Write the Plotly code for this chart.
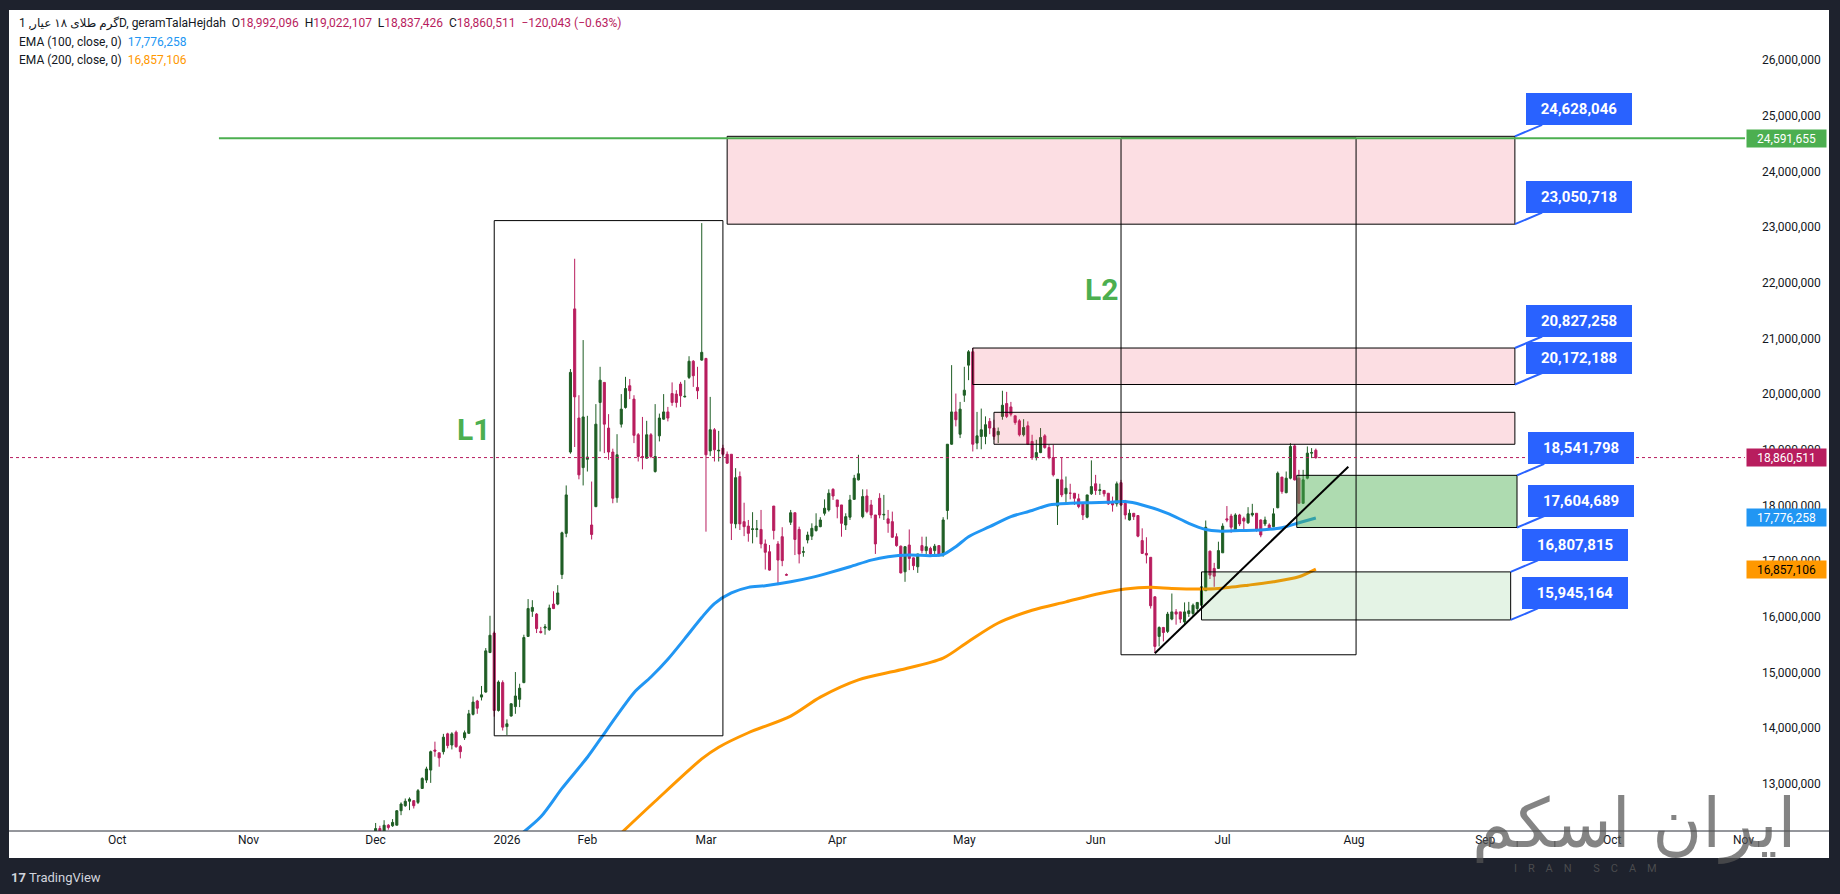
import plotly.graph_objects as go
import pandas as pd

M = 1_000_000

# ---------------- data ----------------
# daily bars (the feed has no bars for 8-19 Jan 2026)
bar_dates = list(pd.date_range("2025-12-01", "2026-01-07")) + list(pd.date_range("2026-01-20", "2026-07-23"))

# OHLC in millions
opens = [
    12.05, 12.20, 12.14, 12.26, 12.25, 12.26, 12.52, 12.61, 12.69, 12.70,
    12.67, 12.92, 13.07, 13.25, 13.61, 13.56, 13.58, 13.90, 13.70, 13.93,
    13.67, 13.83, 13.91, 14.25, 14.49, 14.56, 14.65, 15.36, 15.71, 14.32,
    14.82, 14.03, 14.22, 14.39, 14.52, 14.82, 15.65, 16.10, 16.05, 15.74,
    15.80, 15.77, 16.23, 16.23, 16.76, 17.50, 18.96, 21.53, 19.57, 18.68,
    18.83, 17.65, 17.98, 19.85, 20.21, 19.39, 18.96, 18.14, 19.46, 19.76,
    20.15, 19.91, 19.27, 18.88, 18.85, 19.27, 18.61, 19.25, 19.55, 19.68,
    20.01, 20.00, 20.18, 19.95, 20.30, 20.59, 20.12, 20.61, 20.64, 18.98,
    19.36, 18.98, 19.03, 18.92, 18.92, 17.67, 18.52, 17.71, 17.63, 17.57,
    17.57, 17.57, 17.31, 17.17, 17.99, 17.31, 17.44, 16.76, 17.70, 17.87,
    17.57, 17.16, 17.38, 17.45, 17.55, 17.62, 17.86, 17.92, 18.29, 18.10,
    18.01, 17.65, 17.79, 18.11, 18.46, 17.80, 18.17, 18.01, 17.83, 18.13,
    17.83, 17.76, 17.71, 17.44, 17.27, 16.81, 17.29, 17.06, 16.90, 17.28,
    17.19, 17.23, 17.19, 17.28, 17.11, 17.91, 19.10, 19.68, 19.28, 19.98,
    20.52, 20.76, 19.12, 19.24, 19.24, 19.51, 19.39, 19.27, 19.60, 19.83,
    19.77, 19.61, 19.52, 19.27, 19.43, 19.15, 18.86, 18.95, 19.25, 19.04,
    18.86, 17.99, 18.46, 18.21, 18.22, 18.22, 18.12, 18.05, 17.79, 18.21,
    18.39, 18.27, 18.27, 18.22, 18.07, 18.03, 18.41, 18.04, 17.74, 17.86,
    17.82, 17.37, 17.14, 17.07, 16.36, 15.65, 15.81, 15.74, 15.96, 16.09,
    16.09, 15.91, 16.06, 16.06, 16.15, 16.21, 16.47, 17.18, 16.87, 16.87,
    17.15, 17.76, 17.81, 17.56, 17.83, 17.77, 17.69, 17.83, 17.86, 17.74,
    17.67, 17.65, 17.62, 17.96, 18.51, 18.23, 18.49, 19.07, 18.49, 18.04,
    18.49, 18.94, 18.992096,
]
highs = [
    12.30, 12.25, 12.35, 12.28, 12.37, 12.53, 12.67, 12.74, 12.76, 12.71,
    12.91, 13.12, 13.31, 13.60, 13.76, 13.56, 13.90, 13.92, 13.93, 13.96,
    13.70, 13.96, 14.33, 14.57, 14.51, 14.76, 15.44, 16.02, 15.74, 14.86,
    14.86, 14.16, 14.45, 15.01, 14.80, 15.68, 16.32, 16.30, 16.07, 15.82,
    15.87, 16.22, 16.46, 16.57, 17.53, 18.36, 20.45, 22.43, 19.98, 20.97,
    19.61, 18.43, 19.82, 20.49, 20.21, 19.64, 19.02, 19.28, 20.00, 20.31,
    20.27, 19.98, 19.30, 19.59, 19.52, 19.30, 19.82, 19.65, 20.00, 19.77,
    20.21, 20.07, 20.22, 20.25, 20.68, 20.61, 20.49, 23.07, 20.65, 19.95,
    19.39, 19.34, 19.09, 18.97, 18.92, 18.67, 18.61, 18.05, 17.74, 17.88,
    17.74, 17.92, 17.39, 17.29, 17.99, 17.36, 17.61, 16.78, 17.92, 17.87,
    17.62, 17.26, 17.53, 17.68, 17.86, 17.79, 18.11, 18.29, 18.31, 18.10,
    18.01, 17.86, 18.19, 18.55, 18.91, 18.29, 18.29, 18.10, 17.83, 18.22,
    18.19, 17.92, 17.89, 17.50, 17.28, 17.27, 17.57, 17.07, 17.13, 17.44,
    17.44, 17.26, 17.31, 17.28, 17.79, 19.10, 20.52, 20.01, 19.86, 20.49,
    20.79, 20.83, 19.68, 19.74, 19.60, 19.57, 19.54, 19.40, 20.06, 20.04,
    19.86, 19.61, 19.55, 19.55, 19.51, 19.27, 19.18, 19.39, 19.28, 19.09,
    19.09, 18.47, 18.86, 18.52, 18.39, 18.22, 18.21, 18.05, 18.19, 18.81,
    18.55, 18.39, 18.27, 18.22, 18.16, 18.43, 18.46, 18.10, 17.93, 17.86,
    17.82, 17.59, 17.43, 17.07, 16.37, 15.83, 15.82, 16.09, 16.42, 16.14,
    16.09, 16.26, 16.27, 16.24, 16.26, 16.55, 17.73, 17.19, 16.97, 17.35,
    17.68, 17.99, 17.85, 17.86, 17.85, 17.80, 17.97, 18.03, 17.86, 17.75,
    17.80, 17.68, 17.95, 18.61, 18.51, 18.61, 19.12, 19.10, 18.64, 18.64,
    19.06, 19.03, 19.022107,
]
lows = [
    12.00, 12.08, 12.12, 12.18, 12.23, 12.26, 12.44, 12.59, 12.53, 12.56,
    12.64, 12.91, 13.02, 13.02, 13.49, 13.31, 13.53, 13.64, 13.62, 13.65,
    13.46, 13.79, 13.90, 14.23, 14.26, 14.50, 14.64, 15.35, 14.21, 14.30,
    13.96, 13.88, 14.21, 14.26, 14.38, 14.81, 15.64, 16.00, 15.71, 15.70,
    15.68, 15.75, 16.14, 16.21, 16.68, 17.43, 18.93, 19.05, 18.47, 18.36,
    18.61, 17.39, 17.97, 18.97, 18.94, 18.82, 18.04, 18.05, 19.40, 19.74,
    19.91, 19.12, 18.79, 18.65, 18.84, 18.85, 18.59, 19.15, 19.54, 19.51,
    19.79, 19.76, 19.77, 19.94, 20.27, 20.13, 19.91, 20.60, 17.53, 18.89,
    18.79, 18.79, 18.88, 18.75, 17.38, 17.59, 17.56, 17.45, 17.35, 17.32,
    17.43, 17.23, 16.85, 16.83, 17.39, 16.57, 16.91, 16.74, 17.65, 17.11,
    16.96, 17.08, 17.32, 17.38, 17.53, 17.61, 17.82, 17.89, 18.10, 17.77,
    17.44, 17.56, 17.74, 18.10, 18.45, 17.77, 17.86, 17.77, 17.13, 17.77,
    17.74, 17.51, 17.42, 17.26, 16.78, 16.63, 16.84, 16.84, 16.79, 17.14,
    17.13, 17.08, 17.11, 17.08, 17.08, 17.75, 19.09, 19.42, 19.21, 19.86,
    20.25, 18.97, 19.01, 19.01, 19.10, 19.28, 19.18, 19.12, 19.54, 19.57,
    19.60, 19.45, 19.24, 19.24, 19.09, 18.82, 18.81, 18.94, 19.02, 18.83,
    18.52, 17.65, 18.15, 18.04, 18.11, 18.01, 17.95, 17.74, 17.77, 18.19,
    18.19, 18.19, 18.16, 18.01, 17.89, 17.98, 17.99, 17.75, 17.73, 17.74,
    17.43, 17.13, 16.96, 16.15, 15.35, 15.47, 15.56, 15.71, 15.94, 15.86,
    15.89, 15.87, 16.00, 16.00, 16.09, 16.20, 16.47, 16.68, 16.54, 16.87,
    17.15, 17.70, 17.51, 17.54, 17.63, 17.56, 17.67, 17.80, 17.53, 17.43,
    17.63, 17.56, 17.61, 17.95, 18.21, 18.22, 18.47, 18.45, 18.04, 18.03,
    18.47, 18.85, 18.837426,
]
closes = [
    12.20, 12.12, 12.26, 12.22, 12.31, 12.52, 12.64, 12.69, 12.73, 12.61,
    12.88, 13.10, 13.27, 13.58, 13.59, 13.47, 13.84, 13.69, 13.90, 13.67,
    13.58, 13.92, 14.26, 14.47, 14.36, 14.60, 15.39, 15.67, 14.32, 14.83,
    14.02, 14.08, 14.44, 14.58, 14.72, 15.63, 16.15, 16.17, 15.79, 15.72,
    15.82, 16.16, 16.15, 16.43, 17.51, 18.19, 20.39, 19.95, 18.55, 19.59,
    18.87, 17.48, 19.46, 20.25, 19.46, 18.96, 18.13, 18.91, 19.73, 20.10,
    20.06, 19.26, 18.88, 18.86, 19.27, 18.88, 18.88, 19.57, 19.68, 19.57,
    19.85, 19.85, 19.97, 19.96, 20.59, 20.33, 20.06, 20.75, 18.91, 19.36,
    19.00, 18.99, 18.92, 18.76, 17.68, 18.50, 17.67, 17.62, 17.50, 17.58,
    17.58, 17.31, 17.16, 16.84, 17.55, 17.02, 17.01, 16.75, 17.87, 17.39,
    17.13, 17.17, 17.47, 17.59, 17.63, 17.74, 17.95, 18.22, 18.17, 17.98,
    17.68, 17.80, 18.10, 18.49, 18.57, 18.16, 17.89, 17.83, 17.31, 17.83,
    17.84, 17.68, 17.43, 17.28, 16.79, 17.26, 17.05, 16.92, 17.13, 17.19,
    17.26, 17.13, 17.27, 17.11, 17.74, 19.10, 19.68, 19.54, 19.73, 20.07,
    20.76, 19.10, 19.25, 19.36, 19.45, 19.39, 19.24, 19.33, 19.80, 19.60,
    19.64, 19.49, 19.27, 19.40, 19.10, 18.86, 18.95, 19.22, 19.04, 18.86,
    18.55, 18.47, 18.19, 18.31, 18.22, 18.13, 17.98, 17.83, 18.19, 18.34,
    18.27, 18.28, 18.21, 18.03, 18.01, 18.39, 18.01, 17.83, 17.86, 17.80,
    17.45, 17.14, 17.11, 16.20, 15.47, 15.81, 15.72, 16.05, 16.09, 16.05,
    15.96, 16.09, 16.11, 16.21, 16.26, 16.54, 17.61, 16.75, 16.73, 17.19,
    17.63, 17.74, 17.61, 17.83, 17.67, 17.72, 17.85, 17.86, 17.56, 17.47,
    17.74, 17.57, 17.85, 18.58, 18.25, 18.49, 19.06, 18.46, 18.04, 18.46,
    18.94, 18.95, 18.860511,
]
last_change = -120043
last_change_pct = -0.63

# EMA readings (bar index, value in millions)
ema100_bar = [33, 39, 44, 50, 53, 57, 61, 65, 69, 73, 77, 80, 84, 88, 92, 98, 103, 107, 112, 117,
              121, 126, 131, 134, 137, 140, 145, 150, 155, 159, 164, 169, 173, 177, 181, 187, 192, 196, 199, 204,
              209, 214, 218, 222]
ema100_val = [12.02, 12.41, 12.92, 13.48, 13.80, 14.23, 14.64, 14.92, 15.24, 15.61, 15.99, 16.24, 16.43, 16.53, 16.56, 16.63, 16.71, 16.79, 16.90, 17.02,
              17.08, 17.11, 17.10, 17.12, 17.26, 17.44, 17.62, 17.80, 17.91, 18.01, 18.04, 18.05, 18.06, 18.07, 18.01, 17.86, 17.68, 17.57, 17.54, 17.55,
              17.56, 17.60, 17.69, 17.776258]
ema200_bar = [58, 66, 77, 81, 88, 98, 105, 114, 124, 134, 140, 147, 155, 163, 171, 177, 183, 188, 195, 199, 206, 212, 218, 222]
ema200_val = [12.12, 12.69, 13.45, 13.66, 13.92, 14.22, 14.56, 14.87, 15.05, 15.26, 15.56, 15.89, 16.12, 16.27, 16.42, 16.50, 16.53, 16.51, 16.50, 16.51,
              16.57, 16.63, 16.72, 16.857106]

month_ticks = ["2025-10-01", "2025-11-01", "2025-12-01", "2026-01-01", "2026-02-01", "2026-03-01", "2026-04-01",
               "2026-05-01", "2026-06-01", "2026-07-01", "2026-08-01", "2026-09-01", "2026-10-01", "2026-11-01"]
month_labels = ["Oct", "Nov", "Dec", "2026", "Feb", "Mar", "Apr", "May", "Jun", "Jul", "Aug", "Sep", "Oct", "Nov"]
price_ticks = [13, 14, 15, 16, 17, 18, 19, 20, 21, 22, 23, 24, 25, 26]

# drawings
resistance_level = 24.591655
resistance_start = "2025-10-25"
box_L1 = ("2025-12-29", "2026-03-05", 13.865, 23.115)
box_L2 = ("2026-06-07", "2026-08-01 12:00", 15.32, 24.60)
label_L1 = ("2025-12-24", 19.36)
label_L2 = ("2026-06-02 12:00", 21.87)
pink_zones = [("2026-03-06", "2026-09-08", 23.050718, 24.628046),
              ("2026-05-03", "2026-09-08", 20.172188, 20.827258),
              ("2026-05-08", "2026-09-08", 19.099, 19.673)]
green_zone_dark = ("2026-07-18 12:00", "2026-09-08 12:00", 17.604689, 18.541798)
green_zone_light = ("2026-06-26", "2026-09-07", 15.945164, 16.807815)
trend_line = ("2026-06-15", 15.346, "2026-07-30 16:00", 18.697)
callout_prices = [24628046, 23050718, 20827258, 20172188, 18541798, 17604689, 16807815, 15945164]
callout_x = ["2026-09-08", "2026-09-08", "2026-09-08", "2026-09-08",
             "2026-09-08 12:00", "2026-09-08 12:00", "2026-09-07", "2026-09-07"]

# ---------------- style ----------------
UP = "#1f5e25"
DN = "#b81d5e"
BLUE = "#2196f3"
ORANGE = "#ff9800"
GREEN = "#4caf50"
CALLOUT = "#2962ff"
TXT = "#131722"
FONT = "Roboto, 'DejaVu Sans', sans-serif"

W, H = 1840, 894
ML, MR, MT, MB = 10, 95, 10, 63
PW, PH = W - ML - MR, H - MT - MB


def px_x(x):
    return (x - ML) / PW


def px_y(y):
    return (H - MB - y) / PH


fig = go.Figure()
fig.add_trace(go.Candlestick(
    x=bar_dates,
    open=[v * M for v in opens], high=[v * M for v in highs],
    low=[v * M for v in lows], close=[v * M for v in closes],
    increasing=dict(line=dict(color=UP, width=1), fillcolor=UP),
    decreasing=dict(line=dict(color=DN, width=1), fillcolor=DN),
    whiskerwidth=0, showlegend=False,
))
fig.add_trace(go.Scatter(
    x=[bar_dates[i] for i in ema100_bar], y=[v * M for v in ema100_val], mode="lines",
    line=dict(color=BLUE, width=3, shape="spline", smoothing=0.8), showlegend=False, hoverinfo="skip"))
fig.add_trace(go.Scatter(
    x=[bar_dates[i] for i in ema200_bar], y=[v * M for v in ema200_val], mode="lines",
    line=dict(color=ORANGE, width=3, shape="spline", smoothing=0.8), showlegend=False, hoverinfo="skip"))

shapes = []
# white chart panel and time-axis separator
shapes.append(dict(type="rect", xref="paper", yref="paper", x0=px_x(9), x1=px_x(1829), y0=px_y(858), y1=px_y(10),
                   fillcolor="white", line=dict(width=0), layer="below"))
shapes.append(dict(type="line", xref="paper", yref="paper", x0=px_x(9), x1=px_x(1829), y0=px_y(831), y1=px_y(831),
                   line=dict(color="#2a2e39", width=1)))
# zones
for x0, x1, y0, y1 in pink_zones:
    shapes.append(dict(type="rect", xref="x", yref="y", x0=x0, x1=x1, y0=y0 * M, y1=y1 * M,
                       fillcolor="rgba(240,60,90,0.17)", line=dict(color="black", width=1)))
x0, x1, y0, y1 = green_zone_dark
shapes.append(dict(type="rect", xref="x", yref="y", x0=x0, x1=x1, y0=y0 * M, y1=y1 * M,
                   fillcolor="rgba(76,175,80,0.45)", line=dict(color="black", width=1)))
x0, x1, y0, y1 = green_zone_light
shapes.append(dict(type="rect", xref="x", yref="y", x0=x0, x1=x1, y0=y0 * M, y1=y1 * M,
                   fillcolor="rgba(76,175,80,0.15)", line=dict(color="black", width=1)))
for x0, x1, y0, y1 in (box_L1, box_L2):
    shapes.append(dict(type="rect", xref="x", yref="y", x0=x0, x1=x1, y0=y0 * M, y1=y1 * M,
                       fillcolor="rgba(0,0,0,0)", line=dict(color="black", width=1)))
# resistance ray
shapes.append(dict(type="line", xref="x", yref="y", x0=resistance_start, x1="2026-11-01 08:00",
                   y0=resistance_level * M, y1=resistance_level * M, line=dict(color=GREEN, width=2)))
# last price dotted line
shapes.append(dict(type="line", xref="paper", yref="y", x0=0, x1=1, y0=closes[-1] * M, y1=closes[-1] * M,
                   line=dict(color=DN, width=1, dash="dot")))
# trend line
tx0, ty0, tx1, ty1 = trend_line
shapes.append(dict(type="line", xref="x", yref="y", x0=tx0, y0=ty0 * M, x1=tx1, y1=ty1 * M,
                   line=dict(color="black", width=2)))

ann = []
# callouts
for p, cx in zip(callout_prices, callout_x):
    ann.append(dict(x=cx, y=p, xref="x", yref="y", text=f"<b>{p:,}</b>", showarrow=True, arrowhead=0,
                    arrowwidth=2, arrowcolor=CALLOUT, ax=64, ay=-27, standoff=0,
                    bgcolor=CALLOUT, bordercolor=CALLOUT, borderwidth=1, borderpad=3, width=98, height=24,
                    font=dict(color="white", size=15, family=FONT), align="center", valign="middle"))
# L1 / L2 labels
for txt, (lx, ly) in (("L1", label_L1), ("L2", label_L2)):
    ann.append(dict(x=lx, y=ly * M, xref="x", yref="y", text=txt, showarrow=False,
                    font=dict(color=GREEN, size=30, family=FONT, weight="bold")))
# price-axis badges
badges = [(resistance_level, GREEN, "white"), (closes[-1], DN, "white"),
          (ema100_val[-1], BLUE, "white"), (ema200_val[-1], ORANGE, "black")]
for v, bg, fg in badges:
    ann.append(dict(xref="paper", x=1, xanchor="left", xshift=1, yref="y", y=v * M,
                    text=f"{round(v * M):,}", showarrow=False, bgcolor=bg, borderpad=2, width=75, height=13,
                    font=dict(color=fg, size=12, family=FONT), align="center", valign="middle"))
# header legend
title = "گرم طلای ۱۸ عیار, 1D, geramTalaHejdah"
sp = "\u00a0\u00a0"


def val(v, color=DN):
    return f"<span style='color:{color}'>{v}</span>"


line1 = (f"{title}{sp}O{val(f'{round(opens[-1] * M):,}')}{sp}H{val(f'{round(highs[-1] * M):,}')}"
         f"{sp}L{val(f'{round(lows[-1] * M):,}')}{sp}C{val(f'{round(closes[-1] * M):,}')}"
         f"{sp}{val(f'−{abs(last_change):,} (−{abs(last_change_pct):.2f}%)')}")
line2 = f"EMA (100, close, 0){sp}{val(f'{round(ema100_val[-1] * M):,}', BLUE)}"
line3 = f"EMA (200, close, 0){sp}{val(f'{round(ema200_val[-1] * M):,}', ORANGE)}"
for t, yy in ((line1, 24), (line2, 42), (line3, 60)):
    ann.append(dict(xref="paper", yref="paper", x=px_x(17), y=px_y(yy), xanchor="left", yanchor="middle",
                    text=t, showarrow=False, font=dict(color=TXT, size=12, family=FONT)))
# watermark logo
ann.append(dict(xref="paper", yref="paper", x=px_x(1634), y=px_y(824), xanchor="center", yanchor="middle",
                text="ایران اسکم", showarrow=False,
                font=dict(color="rgba(85,85,85,0.72)", size=68, family="'DejaVu Sans', sans-serif")))
ann.append(dict(xref="paper", yref="paper", x=px_x(1585), y=px_y(868), xanchor="center", yanchor="middle",
                text="I\u00a0\u00a0\u00a0\u00a0R\u00a0\u00a0\u00a0\u00a0A\u00a0\u00a0\u00a0\u00a0N\u00a0\u00a0\u00a0\u00a0\u00a0\u00a0\u00a0\u00a0S\u00a0\u00a0\u00a0\u00a0C\u00a0\u00a0\u00a0\u00a0A\u00a0\u00a0\u00a0\u00a0M",
                showarrow=False, font=dict(color="rgba(90,90,90,0.75)", size=11, family=FONT)))
# TradingView mark
ann.append(dict(xref="paper", yref="paper", x=px_x(9), y=px_y(877), xanchor="left", yanchor="middle",
                text="<b>17</b>", showarrow=False, font=dict(color="#d1d4dc", size=13, family=FONT)))
ann.append(dict(xref="paper", yref="paper", x=px_x(27), y=px_y(877), xanchor="left", yanchor="middle",
                text="TradingView", showarrow=False, font=dict(color="#d1d4dc", size=13, family=FONT)))

fig.update_layout(
    width=W, height=H, margin=dict(l=ML, r=MR, t=MT, b=MB),
    paper_bgcolor="#1e222d", plot_bgcolor="rgba(0,0,0,0)",
    showlegend=False,
    font=dict(family=FONT, color=TXT, size=12),
    xaxis=dict(type="date", range=["2025-09-05 16:00", "2026-11-01 08:00"],
               rangebreaks=[dict(bounds=["2026-01-07 12:00", "2026-01-19 12:00"])],
               rangeslider=dict(visible=False), tickvals=month_ticks, ticktext=month_labels,
               showgrid=False, zeroline=False, showline=False, ticks="",
               tickfont=dict(size=12, color=TXT, family=FONT)),
    yaxis=dict(side="right", range=[12.156 * M, 26.896 * M],
               tickvals=[v * M for v in price_ticks], ticktext=[f"{v * M:,}" for v in price_ticks],
               showgrid=False, zeroline=False, showline=False, ticks="", ticklabelstandoff=16,
               tickfont=dict(size=12, color=TXT, family=FONT)),
    shapes=shapes, annotations=ann,
)

fig.write_html("out.html")
